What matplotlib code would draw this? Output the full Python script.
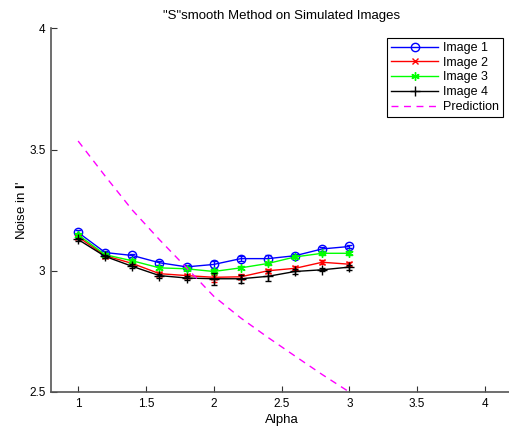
import numpy as np
import matplotlib
matplotlib.use("Agg")
import matplotlib.pyplot as plt

plt.rcParams['font.family'] = ['Liberation Sans', 'DejaVu Sans']
plt.rcParams['font.size'] = 8.5
plt.rcParams['mathtext.fontset'] = 'custom'
plt.rcParams['mathtext.bf'] = 'Liberation Sans:bold'

alpha = [1.0, 1.2, 1.4, 1.6, 1.8, 2.0, 2.2, 2.4, 2.6, 2.8, 3.0]

img1 = [3.158, 3.075, 3.063, 3.033, 3.016, 3.026, 3.050, 3.050, 3.062, 3.090, 3.100]
img2 = [3.140, 3.062, 3.030, 2.988, 2.980, 2.973, 2.975, 3.000, 3.010, 3.035, 3.027]
img3 = [3.148, 3.066, 3.041, 3.012, 3.008, 2.997, 3.012, 3.030, 3.057, 3.072, 3.072]
img4 = [3.129, 3.059, 3.018, 2.980, 2.970, 2.967, 2.967, 2.977, 2.997, 3.004, 3.015]

err1 = [0.008, 0.008, 0.008, 0.008, 0.008, 0.015, 0.010, 0.013, 0.008, 0.008, 0.008]
err2 = [0.008, 0.008, 0.008, 0.008, 0.008, 0.020, 0.010, 0.008, 0.008, 0.008, 0.008]
err3 = [0.008, 0.006, 0.006, 0.006, 0.006, 0.010, 0.006, 0.006, 0.006, 0.006, 0.008]
err4 = [0.008, 0.008, 0.008, 0.008, 0.008, 0.025, 0.016, 0.020, 0.012, 0.006, 0.010]

prediction = [3.535, 3.390, 3.250, 3.128, 3.012, 2.895, 2.805, 2.725, 2.648, 2.572, 2.500]

fig = plt.figure(figsize=(5.10, 4.32), dpi=100)
ax = fig.add_axes([0.1, 0.0926, 0.904, 0.842])

# gwiazdka jak w matlabie: 6 ramion z linii
gwiazdka = (6, 2, 0)
serie = [
    (img1, err1, 'b', 'o', 6, 'Image 1'),
    (img2, err2, 'r', 'x', 4.5, 'Image 2'),
    (img3, err3, (0, 1, 0), gwiazdka, 6, 'Image 3'),
    (img4, err4, 'k', '+', 6.5, 'Image 4'),
]
for y, e, kol, mk, ms, nazwa in serie:
    ax.errorbar(alpha, y, yerr=e, fmt='none', ecolor=kol, elinewidth=1, capsize=2.5, capthick=1)
    mfc = 'none' if mk == 'o' else kol
    ax.plot(alpha, y, color=kol, marker=mk, markersize=ms,
            mfc=mfc, mec=kol, mew=1, lw=1, label=nazwa)

ax.plot(alpha, prediction, color=(1, 0, 1), ls=(0, (5, 4)), lw=1, label='Prediction')

ax.set_xlim(0.8, 4.2)
ax.set_ylim(2.5, 4)
ax.set_xticks([1, 1.5, 2, 2.5, 3, 3.5, 4])
ax.set_xticklabels(['1', '1.5', '2', '2.5', '3', '3.5', '4'])
ax.set_yticks([2.5, 3, 3.5, 4])
ax.set_yticklabels(['2.5', '3', '3.5', '4'])
ax.tick_params(direction='in', length=4, width=0.8, color='#333333', pad=4)

for s in ['top', 'right']:
    ax.spines[s].set_visible(False)
for s in ['left', 'bottom']:
    ax.spines[s].set_color('#555555')
    ax.spines[s].set_linewidth(1.2)

ax.set_title('"S"smooth Method on Simulated Images', fontsize=9.5, pad=7)
ax.set_xlabel('Alpha', fontsize=9.5, labelpad=3)
ax.set_ylabel(r"Noise in $\mathbf{I}$'", fontsize=9.5, labelpad=1)

leg = ax.legend(loc='upper right', bbox_to_anchor=(0.994, 0.99), fancybox=False,
                framealpha=1, edgecolor='k', fontsize=9, handlelength=3.8,
                borderpad=0.3, labelspacing=0.22, handletextpad=0.4)
leg.get_frame().set_linewidth(0.8)

fig.savefig('out.png', dpi=100)
